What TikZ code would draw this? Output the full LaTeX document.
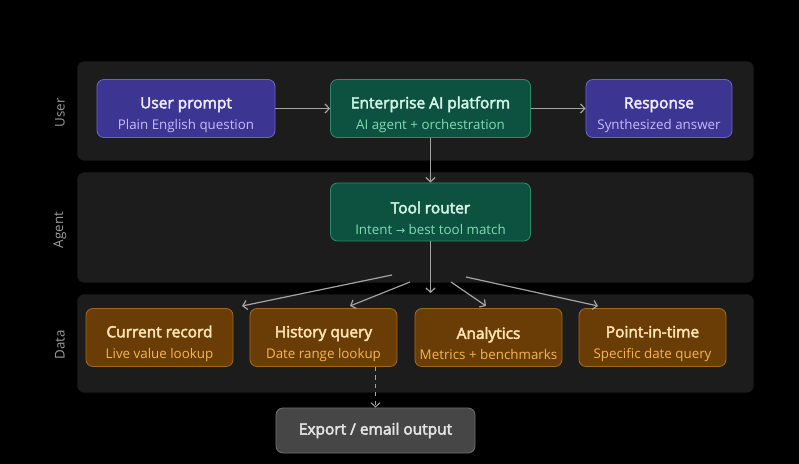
\documentclass[tikz,border=0pt]{standalone}
\usepackage{fontspec}
\setmainfont{Open Sans}
\newfontfamily\titlefont[FakeBold=3]{Open Sans}
\newfontfamily\symfont{DejaVu Sans}
\usetikzlibrary{arrows.meta}

\definecolor{bgblack}{HTML}{000000}
\definecolor{lanegray}{HTML}{1C1C1C}
\definecolor{lanetext}{HTML}{9C9C9C}
\definecolor{wire}{HTML}{A4A4A4}
\definecolor{purplefill}{HTML}{3D3592}
\definecolor{purpleline}{HTML}{6C61C4}
\definecolor{purpletitle}{HTML}{EEEBFF}
\definecolor{purplesub}{HTML}{C4BCFF}
\definecolor{greenfill}{HTML}{0D5240}
\definecolor{greenline}{HTML}{2E8A69}
\definecolor{greentitle}{HTML}{D2F4E6}
\definecolor{greensub}{HTML}{82DAB4}
\definecolor{orangefill}{HTML}{6A3D06}
\definecolor{orangeline}{HTML}{A2691D}
\definecolor{orangetitle}{HTML}{FFE3B2}
\definecolor{orangesub}{HTML}{F6B553}
\definecolor{grayfill}{HTML}{464646}
\definecolor{grayline}{HTML}{6E6E6E}
\definecolor{graytitle}{HTML}{E4E4E4}

\newcommand{\boxlabel}[2]{\rule{0pt}{17pt}{\titlefont\fontsize{11}{13}\selectfont\color{tcol}#1}\\[3pt]{\fontsize{9.5}{11}\selectfont\color{scol}#2}}

\tikzset{
	lane/.style={fill=lanegray, rounded corners=5pt},
	lanelabel/.style={text=lanetext, font=\fontsize{9.5}{11}\selectfont, rotate=90},
	card/.style={draw, rounded corners=5pt, line width=0.6pt, align=center, minimum height=1.45cm, inner sep=0pt},
	usercard/.style={card, fill=purplefill, draw=purpleline, execute at begin node={\colorlet{tcol}{purpletitle}\colorlet{scol}{purplesub}}},
	agentcard/.style={card, fill=greenfill, draw=greenline, execute at begin node={\colorlet{tcol}{greentitle}\colorlet{scol}{greensub}}},
	datacard/.style={card, fill=orangefill, draw=orangeline, minimum width=3.675cm, execute at begin node={\colorlet{tcol}{orangetitle}\colorlet{scol}{orangesub}}},
	flow/.style={draw=wire, line width=0.85pt, -{Straight Barb[length=3pt, width=6.5pt]}}
}

\begin{document}
\begin{tikzpicture}[x=0.025cm, y=-0.025cm]

	\fill[bgblack] (0,0) rectangle (799,464);
	\useasboundingbox (0,0) rectangle (799,464);

	% lanes
	\draw[lane] (77,61) rectangle (754,161);
	\draw[lane] (77,172) rectangle (754,283);
	\draw[lane] (77,294) rectangle (754,393);

	\node[lanelabel] (userlbl) at (60,113) {User};
	\node[lanelabel] (agentlbl) at (60,230) {Agent};
	\node[lanelabel] (datalbl) at (60,345) {Data};

	% user row
	\node[usercard, minimum width=4.45cm] (prompt) at (186,108.5) {\boxlabel{User prompt}{Plain English question}};
	\node[agentcard, minimum width=5cm] (platform) at (430.5,108.5) {\boxlabel{Enterprise AI platform}{AI agent + orchestration}};
	\node[usercard, minimum width=3.65cm] (response) at (659,108.5) {\boxlabel{Response}{Synthesized answer}};

	% agent row
	\node[agentcard, minimum width=5cm] (router) at (430.5,212) {\boxlabel{Tool router}{Intent {\symfont\fontsize{8}{10}\selectfont →} best tool match}};

	% data row
	\node[datacard] (current) at (159.5,337.5) {\boxlabel{Current record}{Live value lookup}};
	\node[datacard] (history) at (323.5,337.5) {\boxlabel{History query}{Date range lookup}};
	\node[datacard] (analytics) at (488.5,337.5) {\boxlabel{Analytics}{Metrics + benchmarks}};
	\node[datacard] (pointtime) at (652.5,337.5) {\boxlabel{Point-in-time}{Specific date query}};

	\node[card, fill=grayfill, draw=grayline, minimum width=4.975cm, minimum height=1.125cm, text=graytitle, font=\titlefont\fontsize{11}{13}\selectfont] (export) at (375.5,430.5) {Export / email output};

	% connectors
	\draw[flow] (prompt) -- (platform);
	\draw[flow] (platform) -- (response);
	\draw[flow] (platform) -- (router);

	\coordinate (routerout) at (430.5,293);
	\coordinate (fanA) at (392,275);
	\coordinate (fanB) at (410,282);
	\coordinate (fanC) at (451,282);
	\coordinate (fanD) at (466,277);
	\coordinate (tipA) at (242,306);
	\coordinate (tipB) at (350,306);
	\coordinate (tipC) at (486,306);
	\coordinate (tipD) at (598,306);

	\draw[flow] (router) -- (routerout);
	\draw[flow] (fanA) -- (tipA);
	\draw[flow] (fanB) -- (tipB);
	\draw[flow] (fanC) -- (tipC);
	\draw[flow] (fanD) -- (tipD);

	\draw[flow, dashed, line width=0.7pt] (export.north |- history.south) -- (export.north);

\end{tikzpicture}
\end{document}
